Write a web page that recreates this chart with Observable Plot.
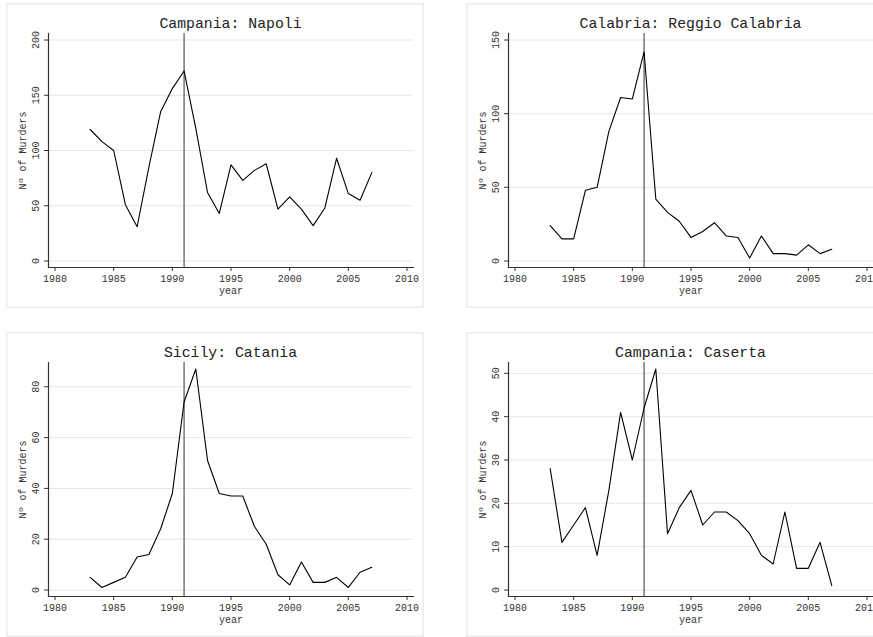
<!DOCTYPE html>
<html><head><meta charset="utf-8">
<script src="https://cdn.jsdelivr.net/npm/d3@7"></script>
<script src="https://cdn.jsdelivr.net/npm/@observablehq/plot@0.6"></script>
<style>
html,body{margin:0;padding:0;background:#fff;overflow:hidden;width:873px;height:637px;position:relative}
.panel{position:absolute;width:418px;height:305px;background:#fff;box-shadow:inset 0 0 0 1.5px #ececec}
.panel svg{position:absolute;left:0;top:0}
.title{position:absolute;top:11px;left:42px;width:365px;text-align:center;font-family:"Liberation Mono",monospace;font-size:14.8px;color:#222;line-height:20px;white-space:nowrap}
</style></head>
<body>
<script>
const years = [1983,1984,1985,1986,1987,1988,1989,1990,1991,1992,1993,1994,1995,1996,1997,1998,1999,2000,2001,2002,2003,2004,2005,2006,2007];
const napoli  = [119,108,100,51,31,85,135,156,172,120,62,43,87,73,82,88,47,58,47,32,48,93,61,55,80];
const reggio  = [24,15,15,48,50,88,111,110,142,42,33,27,16,20,26,17,16,2,17,5,5,4,11,5,8];
const catania = [5,1,3,5,13,14,24,38,74,87,51,38,37,37,25,18,6,2,11,3,3,5,1,7,9];
const caserta = [28,11,15,19,8,23,41,30,42,51,13,19,23,15,18,18,16,13,8,6,18,5,5,11,1];
const titles = ["Campania: Napoli","Calabria: Reggio Calabria","Sicily: Catania","Campania: Caserta"];
const xTicks = [1980,1985,1990,1995,2000,2005,2010];
const yTicksNapoli = [0,50,100,150,200];
const yTicksReggio = [0,50,100,150];
const yTicksCatania = [0,20,40,60,80];
const yTicksCaserta = [0,10,20,30,40,50];
const yMax = [200,150,87,51];
const eventYear = 1991;
const xLabel = "year";
const yLabel = "Nº of Murders";

const series = [napoli, reggio, catania, caserta];
const yTicks = [yTicksNapoli, yTicksReggio, yTicksCatania, yTicksCaserta];
const positions = [[6,3],[466,3],[6,332],[466,332]];

series.forEach((vals, i) => {
  const data = years.map((y, j) => ({year: y, murders: vals[j]}));
  const div = document.createElement("div");
  div.className = "panel";
  div.style.left = positions[i][0] + "px";
  div.style.top = positions[i][1] + "px";
  const t = document.createElement("div");
  t.className = "title";
  t.textContent = titles[i];
  const chart = Plot.plot({
    width: 418, height: 305,
    marginLeft: 42, marginRight: 11, marginTop: 30, marginBottom: 41,
    inset: 6.5,
    style: {fontFamily: "Liberation Mono, monospace", fontSize: "10px", color: "#333", background: "transparent"},
    x: {domain: [1980, 2010]},
    y: {domain: [0, yMax[i]]},
    marks: [
      Plot.gridY(yTicks[i], {stroke: "#e6e6e6", strokeOpacity: 1}),
      Plot.ruleX([eventYear], {stroke: "#333", strokeWidth: 1}),
      Plot.line(data, {x: "year", y: "murders", stroke: "#000", strokeWidth: 1.1}),
      Plot.frame({anchor: "left", stroke: "#333", strokeWidth: 1.2}),
      Plot.frame({anchor: "bottom", stroke: "#333", strokeWidth: 1.2}),
      Plot.axisX(xTicks, {tickSize: 4, tickPadding: 3, tickFormat: d => String(d), label: xLabel, labelAnchor: "center", labelOffset: 26, labelArrow: "none", stroke: "#333"}),
      Plot.axisY(yTicks[i], {tickSize: 4, tickPadding: 6, tickRotate: -90, label: yLabel, labelAnchor: "center", labelOffset: 30, labelArrow: "none", stroke: "#333"})
    ]
  });
  div.appendChild(chart);
  div.appendChild(t);
  document.body.appendChild(div);
});
</script>
</body></html>
